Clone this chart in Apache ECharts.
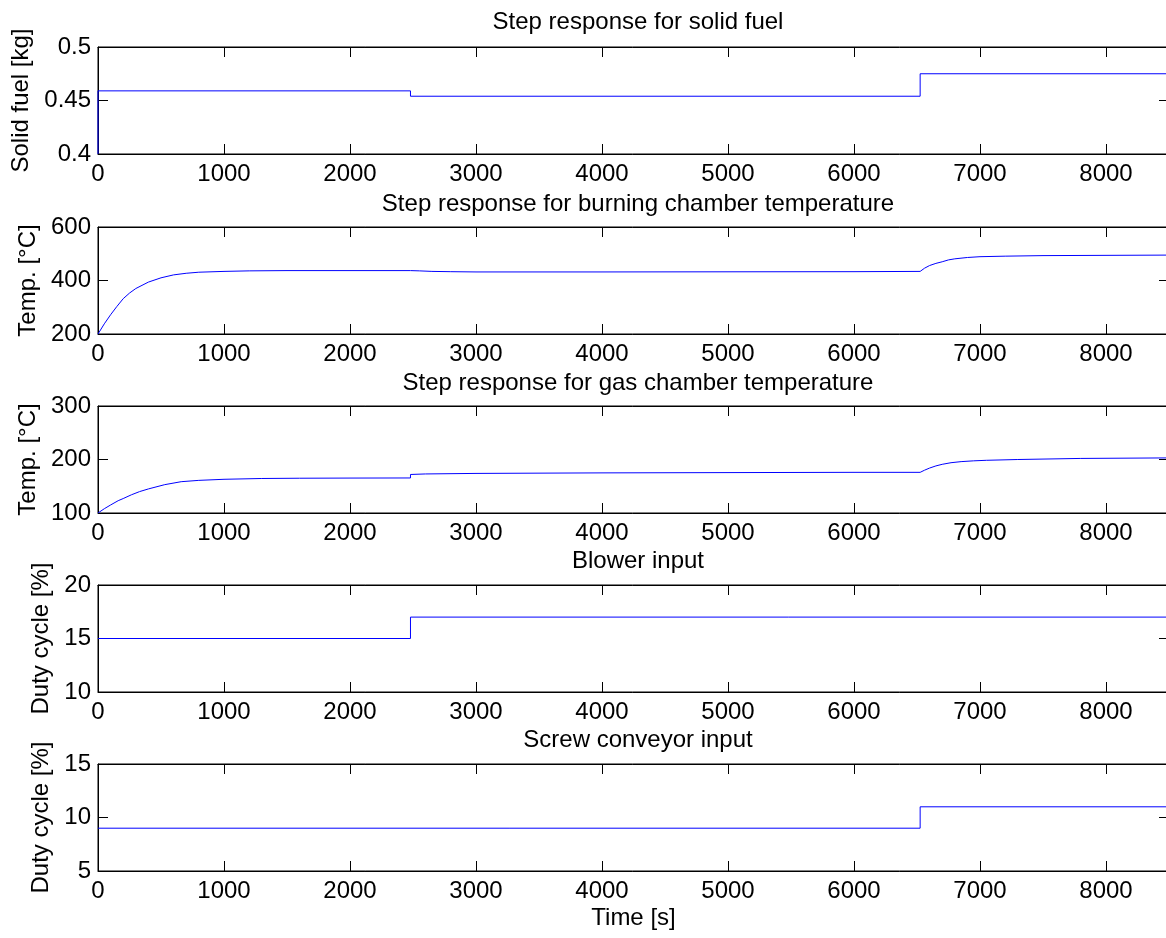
<!DOCTYPE html>
<html>
<head>
<meta charset="utf-8">
<script src="https://cdn.jsdelivr.net/npm/echarts@6/dist/echarts.min.js"></script>
<style>
  html, body { margin: 0; padding: 0; background: #fff; }
  #main { width: 1166px; height: 938px; }
</style>
</head>
<body>
<div id="main"></div>
<script>
// solid fuel
const fuelT = [0, 0, 2480, 2480, 6525, 6525, 8500]
const fuelV = [0.4, 0.459, 0.459, 0.454, 0.454, 0.475, 0.475]
// burning chamber temperature
const burnT = [0, 50, 100, 150, 200, 250, 300, 400, 500, 600, 700, 800, 1000, 1200, 1500, 2000, 2480, 2550, 2650, 2800, 3000, 4000, 5000, 6000, 6525, 6560, 6600, 6650, 6700, 6750, 6800, 6900, 7000, 7200, 7500, 8000, 8500]
const burnV = [200, 238, 272, 303, 332, 353, 370, 394, 410, 421, 427, 431, 434, 436, 437, 437, 437, 436, 434, 433, 432, 432, 432.5, 433, 434, 446, 456, 464, 470, 477, 481, 486, 489, 491, 493, 494, 495]
// gas chamber temperature
const gasT = [0, 50, 100, 160, 200, 265, 330, 400, 530, 660, 800, 1000, 1300, 1600, 2000, 2480, 2480, 2600, 3000, 4000, 5000, 6000, 6525, 6560, 6600, 6650, 6700, 6770, 6850, 6950, 7050, 7300, 7800, 8500]
const gasV = [100, 108, 115, 123, 127, 134, 140, 145, 153, 158.5, 161, 163, 164.5, 165, 165.3, 165.5, 172, 173, 174, 175, 175.5, 176, 176, 180, 184, 188, 191, 194, 196, 197.5, 198.5, 200, 202, 203]
// blower input
const blowT = [0, 2480, 2480, 8500]
const blowV = [15, 15, 17, 17]
// screw conveyor input
const screwT = [0, 6525, 6525, 8500]
const screwV = [9, 9, 11, 11]

const titles = ['Step response for solid fuel', 'Step response for burning chamber temperature',
  'Step response for gas chamber temperature', 'Blower input', 'Screw conveyor input']
const yNames = ['Solid fuel [kg]', 'Temp. [°C]', 'Temp. [°C]', 'Duty cycle [%]', 'Duty cycle [%]']
const yMin = [0.4, 200, 100, 10, 5]
const yMax = [0.5, 600, 300, 20, 15]
const yStep = [0.05, 200, 100, 5, 5]
const xTicks = [0, 1000, 2000, 3000, 4000, 5000, 6000, 7000, 8000]

const font = 'Liberation Sans, Arial, sans-serif'
const fs = 24
const tops = [47, 227, 406, 585, 764]
const titleTops = [5, 187, 366, 544, 723]
const nameGaps = [62, 57, 57, 45, 45]
const plotH = 107

function pairs(t, v) {
  return t.map((x, i) => [x, v[i]])
}
const lines = [pairs(fuelT, fuelV), pairs(burnT, burnV), pairs(gasT, gasV), pairs(blowT, blowV), pairs(screwT, screwV)]

const grid = []
const xAxis = []
const yAxis = []
const series = []
const title = []
const tick = { show: true, inside: true, length: 10, lineStyle: { color: '#000', width: 1 } }
const axLine = { show: true, onZero: false, lineStyle: { color: '#000', width: 1 } }

for (let i = 0; i < 5; i++) {
  grid.push({
    left: 98, width: 1071, top: tops[i], height: plotH, show: true, borderColor: '#000', borderWidth: 1,
    containLabel: false, outerBoundsMode: 'none'
  })
  title.push({
    text: titles[i], left: 633, top: titleTops[i], textAlign: 'center',
    textStyle: { fontFamily: font, fontSize: fs, fontWeight: 'normal', color: '#000' }
  })
  // bottom + top x axes
  xAxis.push({
    type: 'value', gridIndex: i, position: 'bottom', min: 0, max: 8500, interval: 1000,
    axisLine: axLine, axisTick: tick, splitLine: { show: false },
    axisLabel: {
      margin: 8, color: '#000', fontFamily: font, fontSize: fs,
      formatter: v => (xTicks.indexOf(v) >= 0 ? String(v) : '')
    },
    name: i === 4 ? 'Time [s]' : '', nameLocation: 'middle', nameGap: 35,
    nameTextStyle: { fontFamily: font, fontSize: fs, color: '#000' }
  })
  xAxis.push({
    type: 'value', gridIndex: i, position: 'top', min: 0, max: 8500, interval: 1000,
    axisLine: axLine, axisTick: tick, splitLine: { show: false }, axisLabel: { show: false }
  })
  yAxis.push({
    type: 'value', gridIndex: i, position: 'left', min: yMin[i], max: yMax[i], interval: yStep[i],
    axisLine: axLine, axisTick: tick, splitLine: { show: false },
    axisLabel: { margin: 7, color: '#000', fontFamily: font, fontSize: fs, formatter: v => String(+v.toFixed(2)) },
    name: yNames[i], nameLocation: 'middle', nameGap: nameGaps[i], nameRotate: 90,
    nameTextStyle: { fontFamily: font, fontSize: fs, color: '#000' }
  })
  yAxis.push({
    type: 'value', gridIndex: i, position: 'right', min: yMin[i], max: yMax[i], interval: yStep[i],
    axisLine: axLine, axisTick: tick, splitLine: { show: false }, axisLabel: { show: false }
  })
  series.push({
    type: 'line', xAxisIndex: i * 2, yAxisIndex: i * 2, data: lines[i],
    showSymbol: false, symbol: 'none', lineStyle: { color: '#0000ff', width: 1 }, silent: true
  })
}

const myChart = echarts.init(document.getElementById('main'))
myChart.setOption({
  animation: false,
  backgroundColor: '#fff',
  title: title,
  grid: grid,
  xAxis: xAxis,
  yAxis: yAxis,
  series: series
})
</script>
</body>
</html>
